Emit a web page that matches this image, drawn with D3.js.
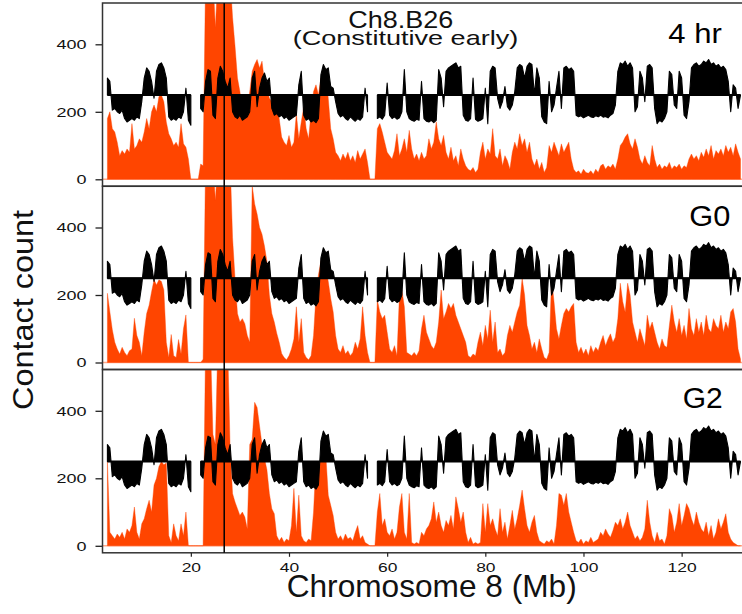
<!DOCTYPE html>
<html>
<head>
<meta charset="utf-8">
<script src="https://cdn.jsdelivr.net/npm/d3@7/dist/d3.min.js"></script>
<style>
  html, body { margin: 0; padding: 0; background: #fff; }
  svg { display: block; font-family: "Liberation Sans", Arial, Helvetica, sans-serif; }
</style>
</head>
<body>
<svg id="chart" width="742" height="614"></svg>
<script>
// ---------------- DATA ----------------
// bins: 0.5 Mb, starting at 3.0 Mb
const binStartMb = 3.0;
const binSizeMb = 0.5;

// replication-timing-like profile (black), centred on 250; null = no data
const timingProfile = [
  300,290,205,210,200,195,205,180,170,175,
  180,175,185,180,230,300,330,320,290,240,
  320,340,345,330,300,185,175,180,175,185,
  180,200,270,175,160,null,null,null,210,200,
  290,325,320,190,180,300,335,320,290,270,
  300,200,185,180,190,175,180,185,200,300,
  320,215,270,300,315,290,300,210,190,195,
  185,190,180,185,175,180,185,190,280,320,
  190,175,180,170,175,168,180,310,340,325,
  330,275,270,230,195,185,190,180,175,185,
  178,172,180,175,185,270,200,null,null,null,
  180,185,178,190,285,190,180,185,178,182,
  200,325,200,180,175,172,178,175,290,180,
  172,170,175,168,175,325,300,215,320,330,
  335,340,345,330,335,190,175,172,180,300,
  178,172,175,180,270,165,320,335,330,240,
  210,230,275,215,205,220,260,330,340,335,
  300,335,345,340,250,330,300,185,170,165,
  290,200,220,270,320,210,330,335,325,330,
  320,190,185,188,182,186,190,185,183,188,
  185,190,184,186,182,190,195,220,320,345,
  340,350,335,345,330,200,215,320,300,230,
  335,340,330,210,165,175,170,180,200,320,
  310,220,210,320,300,190,180,230,330,340,
  345,335,340,350,345,355,340,345,335,340,
  330,335,325,290,200,280,270,210,250
];

const contact4hr = [
  180,200,150,140,110,70,85,75,90,80,
  165,90,100,120,110,140,180,150,200,220,
  200,245,250,230,170,135,120,100,110,95,
  165,105,95,60,0,0,0,0,45,40,
  600,600,600,600,450,600,600,600,600,600,
  600,480,395,300,260,200,190,210,260,320,
  340,355,330,350,290,270,240,230,200,210,
  180,125,110,100,130,95,110,195,120,170,
  215,150,120,200,260,280,250,300,290,323,
  240,150,120,80,70,55,75,60,80,55,
  70,50,85,60,75,90,50,0,0,0,
  150,165,140,110,80,70,60,85,135,70,
  90,120,80,145,90,60,75,55,80,60,
  70,120,90,110,170,120,100,130,80,60,
  95,55,70,40,90,60,40,30,25,35,
  20,30,80,110,60,90,75,150,70,60,
  90,40,70,55,30,80,110,90,135,100,
  120,80,110,60,40,60,30,50,20,35,
  100,80,110,90,70,105,80,95,110,60,
  30,20,25,15,30,20,18,25,15,30,
  20,40,45,30,40,35,45,30,60,100,
  110,125,135,105,90,120,95,60,45,70,
  50,40,100,60,35,45,30,40,35,50,
  30,40,35,45,30,40,35,60,75,60,
  70,55,80,65,90,70,100,60,85,75,
  90,70,100,80,95,70,105,80,60
];

const contactG0 = [
  205,150,97,60,40,25,45,30,20,35,
  40,131,80,60,20,90,145,170,210,245,
  230,245,240,215,60,15,83,20,15,68,
  25,100,141,0,0,0,0,0,0,10,
  600,600,600,600,480,600,600,600,600,600,
  600,370,250,145,120,130,115,80,60,525,
  470,440,400,380,345,300,200,145,120,87,
  60,27,15,8,20,40,70,165,60,130,
  30,15,8,20,80,200,260,300,325,280,
  240,190,150,80,40,30,50,25,35,20,
  30,60,40,70,165,80,30,0,0,0,
  185,150,130,140,90,40,30,50,20,200,
  215,165,30,25,20,30,20,35,100,140,
  90,70,50,40,60,120,215,130,150,175,
  160,175,140,120,100,80,60,20,15,25,
  20,60,90,50,110,70,155,60,120,30,
  40,20,30,80,110,90,120,150,170,250,
  200,110,80,40,60,30,70,40,15,10,
  30,250,180,100,70,110,145,160,150,165,
  175,60,30,45,25,40,20,50,30,45,
  35,60,80,50,70,85,60,75,130,235,
  180,150,235,200,120,90,60,100,75,50,
  140,100,120,90,60,40,70,50,45,110,
  170,120,90,130,80,110,70,160,100,80,
  130,90,120,80,140,100,90,130,110,100,
  140,90,120,100,150,160,120,40,10
];

const contactG2 = [
  249,40,30,20,35,25,40,20,50,40,
  60,115,40,20,65,80,110,135,100,180,
  200,235,250,240,245,30,10,65,30,15,
  65,30,100,0,0,0,0,0,0,0,
  600,600,600,330,300,600,600,600,600,600,
  290,155,130,110,90,100,85,50,300,315,
  425,410,355,300,260,225,155,110,95,30,
  15,25,10,20,15,60,170,40,150,30,
  15,10,20,15,100,250,235,260,285,270,
  150,120,90,40,20,30,15,35,20,25,
  15,40,60,20,30,10,5,0,0,0,
  100,155,60,80,40,30,50,20,40,115,
  155,40,20,155,10,5,10,5,40,30,
  50,60,80,130,70,100,60,40,75,60,
  90,50,145,110,70,100,40,10,25,5,
  10,5,10,125,40,125,60,80,50,30,
  110,40,70,20,60,105,50,80,120,165,
  110,60,40,70,90,40,15,10,5,15,
  10,20,5,60,155,150,120,155,100,70,
  40,15,10,20,5,15,10,25,10,15,
  20,40,30,50,35,25,45,70,60,80,
  50,70,100,60,40,20,30,15,25,50,
  135,70,30,10,40,15,20,5,30,110,
  90,40,70,125,60,90,125,110,80,60,
  100,70,50,40,70,30,60,20,40,80,
  50,70,95,40,20,10,5,0,0
];

const panelNames = ["4 hr", "G0", "G2"];
const panelSeries = [contact4hr, contactG0, contactG2];
const yTickValues = [0, 200, 400];
const xTickValues = [20, 40, 60, 80, 100, 120];
const timingBaseline = 250;
const markerMb = 26.8;
const titleLines = ["Ch8.B26", "(Constitutive early)"];
const xAxisTitle = "Chromosome 8 (Mb)";
const yAxisTitle = "Contact count";

// ---------------- LAYOUT ----------------
const svg = d3.select("#chart");
const W = 742, H = 614;
const plotLeft = 102.5, plotRight = 742;
const panelTops = [3, 186.2, 369.5];
const panelH = 183.3;
const zeroPad = 7;       // zero line is this far above panel bottom
const pxPer400 = 135;    // 400 units height
const ORANGE = "#ff4500";

const x = d3.scaleLinear().domain([2, 132.3]).range([plotLeft, plotRight]);
const binMb = i => binStartMb + i * binSizeMb;

const defs = svg.append("defs");

panelSeries.forEach((series, p) => {
  const top = panelTops[p];
  const g = svg.append("g").attr("transform", `translate(0,${top})`);
  const y = d3.scaleLinear().domain([0, 400]).range([panelH - zeroPad, panelH - zeroPad - pxPer400]);

  defs.append("clipPath").attr("id", "clip" + p)
    .append("rect").attr("x", plotLeft).attr("y", 0)
    .attr("width", plotRight - plotLeft + 10).attr("height", panelH);

  const body = g.append("g").attr("clip-path", `url(#clip${p})`);

  // zero line (thin, light orange)
  body.append("line")
    .attr("x1", plotLeft).attr("x2", plotRight + 5)
    .attr("y1", y(0)).attr("y2", y(0))
    .attr("stroke", ORANGE).attr("stroke-opacity", 0.45).attr("stroke-width", 1.5);

  // contact count area
  const area = d3.area()
    .x((d, i) => x(binMb(i)))
    .y0(y(0))
    .y1(d => y(d));
  body.append("path").datum(series)
    .attr("d", area)
    .attr("fill", ORANGE)
    .attr("stroke", ORANGE).attr("stroke-width", 0.4);

  // timing profile, filled from baseline 250
  const tArea = d3.area()
    .defined(d => d != null)
    .x((d, i) => x(binMb(i)))
    .y0(y(timingBaseline))
    .y1(d => y(d));
  body.append("path").datum(timingProfile)
    .attr("d", tArea)
    .attr("fill", "#000")
    .attr("stroke", "#000").attr("stroke-width", 1.1).attr("stroke-linejoin", "round");

  // baseline at 250
  const bLine = d3.line()
    .defined(d => d != null)
    .x((d, i) => x(binMb(i)))
    .y(() => y(timingBaseline));
  body.append("path").datum(timingProfile)
    .attr("d", bLine).attr("fill", "none")
    .attr("stroke", "#000").attr("stroke-width", 2);

  // y axis
  const yAxis = d3.axisLeft(y).tickValues(yTickValues).tickSize(7).tickPadding(9);
  const ya = g.append("g").attr("transform", `translate(${plotLeft},0)`).call(yAxis);
  ya.select(".domain").remove();
  ya.selectAll(".tick line").attr("stroke", "#222").attr("stroke-width", 1.3);
  ya.selectAll(".tick text")
    .attr("font-size", 13.5).attr("fill", "#111")
    .attr("font-family", "Liberation Sans, Arial, sans-serif")
    .each(function(d) {
      const s = String(d);
      const len = s.length * 10;
      d3.select(this).attr("text-anchor", "start").attr("x", -16 - len)
        .attr("textLength", len).attr("lengthAdjust", "spacingAndGlyphs");
    });

  // panel frame
  g.append("rect")
    .attr("x", plotLeft).attr("y", 0)
    .attr("width", plotRight - plotLeft + 20).attr("height", panelH)
    .attr("fill", "none").attr("stroke", "#333").attr("stroke-width", 1.5);

  // panel label
  const labelBox = [{x: 668.3, len: 53.5, fs: 28, base: 40.3},
                    {x: 689.3, len: 41, fs: 30, base: 40.3},
                    {x: 682.7, len: 40, fs: 30, base: 38.8}][p];
  g.append("text")
    .attr("x", labelBox.x).attr("y", labelBox.base)
    .attr("font-size", labelBox.fs).attr("fill", "#000")
    .attr("textLength", labelBox.len).attr("lengthAdjust", "spacingAndGlyphs")
    .text(panelNames[p]);
});

// marker vertical line
svg.append("line")
  .attr("x1", x(markerMb)).attr("x2", x(markerMb))
  .attr("y1", panelTops[0]).attr("y2", panelTops[2] + panelH)
  .attr("stroke", "#000").attr("stroke-width", 1.5);

// x axis
const xAxis = d3.axisBottom(x).tickValues(xTickValues).tickSize(4).tickPadding(6);
const xa = svg.append("g").attr("transform", `translate(0,${panelTops[2] + panelH})`).call(xAxis);
xa.select(".domain").remove();
xa.selectAll(".tick line").attr("stroke", "#222").attr("stroke-width", 1.2);
xa.selectAll(".tick text")
  .attr("font-size", 13).attr("fill", "#111")
  .attr("font-family", "Liberation Sans, Arial, sans-serif")
  .each(function(d) {
    const s = String(d);
    const len = s.length * 9.7;
    d3.select(this).attr("text-anchor", "start").attr("x", -len / 2)
      .attr("textLength", len).attr("lengthAdjust", "spacingAndGlyphs");
  });

// title
svg.append("text").attr("x", 348.3).attr("y", 28)
  .attr("font-size", 24).attr("fill", "#111")
  .attr("textLength", 105).attr("lengthAdjust", "spacingAndGlyphs")
  .text(titleLines[0]);
svg.append("text").attr("x", 292.7).attr("y", 44.7)
  .attr("font-size", 21).attr("fill", "#111")
  .attr("textLength", 225.6).attr("lengthAdjust", "spacingAndGlyphs")
  .text(titleLines[1]);

// axis titles
svg.append("text").attr("x", 286.7).attr("y", 596.7)
  .attr("font-size", 32).attr("fill", "#111")
  .attr("textLength", 290).attr("lengthAdjust", "spacingAndGlyphs")
  .text(xAxisTitle);

svg.append("text")
  .attr("transform", "translate(33,410) rotate(-90)")
  .attr("x", 0).attr("y", 0)
  .attr("font-size", 30).attr("fill", "#111")
  .attr("textLength", 200).attr("lengthAdjust", "spacingAndGlyphs")
  .text(yAxisTitle);
</script>
</body>
</html>
